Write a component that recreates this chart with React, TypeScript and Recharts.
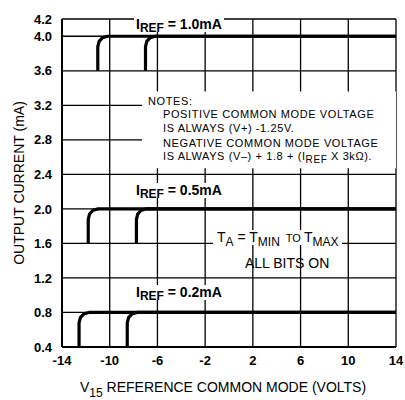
import { LineChart, Line, XAxis, YAxis, CartesianGrid, ReferenceArea } from "recharts";

const xTicks = [-14, -10, -6, -2, 2, 6, 10, 14];
const yTicks = [0.4, 0.8, 1.2, 1.6, 2.0, 2.4, 2.8, 3.2, 3.6, 4.0, 4.2];

// v = common mode voltage (V), i = output current (mA)
// "a" curves switch on at the lower voltage, "b" curves ~4V later
const ref10a = [
  { v: -11.0, i: 3.6 }, { v: -11.0, i: 3.88 }, { v: -10.89, i: 3.94 },
  { v: -10.6, i: 3.984 }, { v: -10.17, i: 4.0 }, { v: 14, i: 4.0 },
];
const ref10b = [
  { v: -7.0, i: 3.6 }, { v: -7.0, i: 3.88 }, { v: -6.89, i: 3.94 },
  { v: -6.6, i: 3.984 }, { v: -6.17, i: 4.0 }, { v: 14, i: 4.0 },
];
const ref05a = [
  { v: -11.8, i: 1.6 }, { v: -11.8, i: 1.88 }, { v: -11.69, i: 1.94 },
  { v: -11.4, i: 1.984 }, { v: -10.97, i: 2.0 }, { v: 14, i: 2.0 },
];
const ref05b = [
  { v: -7.76, i: 1.6 }, { v: -7.76, i: 1.88 }, { v: -7.65, i: 1.94 },
  { v: -7.36, i: 1.984 }, { v: -6.93, i: 2.0 }, { v: 14, i: 2.0 },
];
const ref02a = [
  { v: -12.57, i: 0.4 }, { v: -12.57, i: 0.68 }, { v: -12.46, i: 0.74 },
  { v: -12.17, i: 0.784 }, { v: -11.74, i: 0.8 }, { v: 14, i: 0.8 },
];
const ref02b = [
  { v: -8.53, i: 0.4 }, { v: -8.53, i: 0.68 }, { v: -8.42, i: 0.74 },
  { v: -8.13, i: 0.784 }, { v: -7.7, i: 0.8 }, { v: 14, i: 0.8 },
];

const curves = [ref10a, ref10b, ref05a, ref05b, ref02a, ref02b];

const notes = [
  "POSITIVE COMMON MODE VOLTAGE",
  "IS ALWAYS (V+) -1.25V.",
  "NEGATIVE COMMON MODE VOLTAGE",
];

const FONT = "'Liberation Sans', Arial, sans-serif";
const tickStyle = { fill: "#000", fontSize: 13, fontWeight: 700, fontFamily: FONT };

const abs = (left: number, top: number, extra: any = {}) => ({
  position: "absolute" as const,
  left,
  top,
  whiteSpace: "nowrap" as const,
  color: "#000",
  ...extra,
});

function Iref({ value, top }: { value: string; top: number }) {
  return (
    <div style={abs(134, top, { fontSize: 14, lineHeight: "14px", fontWeight: 700, background: "#fff", padding: "0 2px" })}>
      I<span style={{ fontSize: 12, position: "relative", top: 3 }}>REF</span> = {value}
    </div>
  );
}

export default function App() {
  return (
    <div style={{ position: "absolute", left: 0, top: 0, width: 405, height: 400, background: "#fff", fontFamily: FONT }}>
      <LineChart width={405} height={400} margin={{ top: 19, right: 9, left: 12, bottom: 23 }}>
        <CartesianGrid stroke="#000" strokeWidth={1.3} />
        <XAxis
          dataKey="v"
          type="number"
          domain={[-14, 14]}
          ticks={xTicks}
          interval={0}
          tickLine={false}
          tickMargin={3}
          height={30}
          axisLine={{ stroke: "#000", strokeWidth: 2 }}
          tick={tickStyle}
          allowDuplicatedCategory={false}
        />
        <YAxis
          type="number"
          domain={[0.4, 4.2]}
          ticks={yTicks}
          interval={0}
          tickLine={false}
          tickMargin={4}
          width={50}
          axisLine={{ stroke: "#000", strokeWidth: 2 }}
          tick={tickStyle}
          tickFormatter={(t: number) => t.toFixed(1)}
        />
        <ReferenceArea x1={-7.29} x2={14} y1={2.47} y2={3.36} fill="#fff" fillOpacity={1} stroke="none" />
        {curves.map((d, k) => (
          <Line
            key={k}
            data={d}
            dataKey="i"
            type="linear"
            stroke="#000"
            strokeWidth={3.2}
            strokeLinejoin="round"
            dot={false}
            activeDot={false}
            isAnimationActive={false}
          />
        ))}
      </LineChart>

      <Iref value="1.0mA" top={17} />
      <Iref value="0.5mA" top={183} />
      <Iref value="0.2mA" top={285} />

      <div style={abs(148, 96, { fontSize: 11, lineHeight: "11px", letterSpacing: 0.6 })}>NOTES:</div>
      {notes.map((n, k) => (
        <div key={n} style={abs(163, [109, 123, 138][k], { fontSize: 11, lineHeight: "11px", letterSpacing: 0.6 })}>
          {n}
        </div>
      ))}
      <div style={abs(163, 151, { fontSize: 11, lineHeight: "11px", letterSpacing: 0.6 })}>
        IS ALWAYS (V–) + 1.8 + (I<span style={{ fontSize: 10, position: "relative", top: 3 }}>REF</span> X 3kΩ).
      </div>

      <div style={abs(213, 230, { fontSize: 14, lineHeight: "14px", background: "#fff", padding: "0 4px" })}>
        T<span style={{ fontSize: 12, position: "relative", top: 4 }}>A</span> = T
        <span style={{ fontSize: 12, position: "relative", top: 4 }}>MIN</span>
        <span style={{ fontSize: 11 }}>&nbsp; TO </span>T
        <span style={{ fontSize: 12, position: "relative", top: 4 }}>MAX</span>
      </div>
      <div style={abs(245, 256, { fontSize: 14, lineHeight: "14px" })}>ALL BITS ON</div>

      <div
        style={abs(19, 183, {
          fontSize: 14,
          lineHeight: "14px",
          transform: "translate(-50%, -50%) rotate(-90deg)",
        })}
      >
        OUTPUT CURRENT (mA)
      </div>
      <div style={abs(80, 380, { fontSize: 14, lineHeight: "14px" })}>
        V<span style={{ fontSize: 12, position: "relative", top: 5 }}>15</span> REFERENCE COMMON MODE (VOLTS)
      </div>
    </div>
  );
}
